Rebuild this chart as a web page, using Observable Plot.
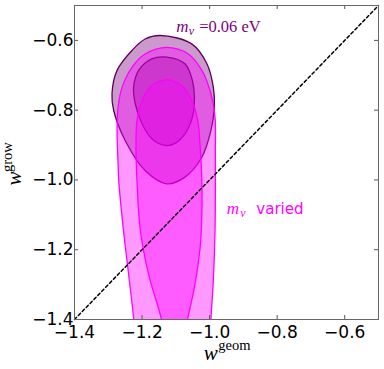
<!DOCTYPE html>
<html>
<head>
<meta charset="utf-8">
<script src="https://cdn.jsdelivr.net/npm/d3@7"></script>
<script src="https://cdn.jsdelivr.net/npm/@observablehq/plot@0.6"></script>
<style>
  html, body { margin: 0; padding: 0; background: white; }
</style>
</head>
<body>
<div id="chart"></div>
<script>
// ---- data ----
const xTicks = [-1.4, -1.2, -1.0, -0.8, -0.6];
const yTicks = [-1.4, -1.2, -1.0, -0.8, -0.6];
const xDomain = [-1.4, -0.5];
const yDomain = [-1.4, -0.5];

// m_nu = 0.06 eV contours (outer 95%, inner 68%)
const purpleOuter = [
  [-1.146, -0.586], [-1.053, -0.610], [-1.008, -0.667], [-0.989, -0.734],
  [-0.986, -0.792], [-0.996, -0.858], [-1.023, -0.935], [-1.073, -0.992],
  [-1.127, -1.011], [-1.191, -0.973], [-1.250, -0.887], [-1.284, -0.801],
  [-1.289, -0.753], [-1.274, -0.686], [-1.230, -0.629], [-1.191, -0.596]
];
const purpleInner = [
  [-1.127, -0.648], [-1.073, -0.667], [-1.051, -0.715], [-1.045, -0.763],
  [-1.051, -0.820], [-1.073, -0.868], [-1.102, -0.895], [-1.132, -0.901],
  [-1.171, -0.882], [-1.200, -0.839], [-1.220, -0.782], [-1.225, -0.734],
  [-1.210, -0.686], [-1.171, -0.653]
];
// m_nu varied contours
const magentaOuter = [
  [-1.127, -0.620], [-1.063, -0.639], [-1.023, -0.686], [-0.996, -0.753],
  [-0.984, -0.820], [-0.983, -0.916], [-0.984, -1.145], [-0.989, -1.288],
  [-0.996, -1.398], [-0.999, -1.460], [-1.110, -1.500], [-1.222, -1.460],
  [-1.225, -1.398], [-1.240, -1.269], [-1.255, -1.145], [-1.269, -1.002],
  [-1.271, -0.954], [-1.274, -0.858], [-1.271, -0.792], [-1.259, -0.734],
  [-1.230, -0.677], [-1.191, -0.639]
];
const magentaInner = [
  [-1.127, -0.713], [-1.082, -0.729], [-1.053, -0.772], [-1.035, -0.830],
  [-1.028, -0.906], [-1.023, -1.002], [-1.023, -1.097], [-1.028, -1.193],
  [-1.045, -1.308], [-1.065, -1.398], [-1.075, -1.460], [-1.103, -1.500],
  [-1.132, -1.460], [-1.143, -1.398], [-1.181, -1.269], [-1.205, -1.145],
  [-1.215, -1.002], [-1.218, -0.906], [-1.215, -0.830], [-1.200, -0.772],
  [-1.171, -0.729]
];
const diagonal = [[-1.4, -1.4], [-0.5, -0.5]];

// annotation anchors (data coords) and texts
const labelFixed = {x: -1.099, y: -0.577, m: "m", sub: "ν", rest: "=0.06 eV"};
const labelVaried = {x: -0.949, y: -1.097, m: "m", sub: "ν", rest: "varied"};

const fmt = d => d.toFixed(1).replace("-", "\u2212");
const PURPLE = "#800080", PURPLE_LINE = "#5e005e", MAGENTA = "#ff00ff";
const serif = "Liberation Serif";

const tickLenY = 4 / 348.9;
const tickLenX = 4 / 337.8;

const contour = (pts, color, line, clip) => [
  Plot.line(pts, {x: d => d[0], y: d => d[1], curve: "catmull-rom-closed",
    fill: color, fillOpacity: 0.4, stroke: "none", clip}),
  Plot.line(pts, {x: d => d[0], y: d => d[1], curve: "catmull-rom-closed",
    fill: "none", stroke: line, strokeWidth: 1.3, clip})
];

const chart = Plot.plot({
  width: 384,
  height: 369,
  marginLeft: 74,
  marginRight: 6,
  marginTop: 5,
  marginBottom: 50,
  style: {fontFamily: "DejaVu Sans", fontSize: "17px", background: "white", overflow: "visible"},
  x: {domain: xDomain, label: null},
  y: {domain: yDomain, label: null},
  marks: [
    ...contour(purpleOuter, PURPLE, PURPLE_LINE, false),
    ...contour(purpleInner, PURPLE, PURPLE_LINE, false),
    ...contour(magentaOuter, MAGENTA, MAGENTA, true),
    ...contour(magentaInner, MAGENTA, MAGENTA, true),
    Plot.line(diagonal, {x: d => d[0], y: d => d[1], stroke: "black", strokeWidth: 1.5, strokeDasharray: "3,2.6"}),
    // inward ticks
    Plot.ruleX(xTicks, {x: d => d, y1: yDomain[0], y2: yDomain[0] + tickLenY, stroke: "#555"}),
    Plot.ruleX(xTicks, {x: d => d, y1: yDomain[1], y2: yDomain[1] - tickLenY, stroke: "#555"}),
    Plot.ruleY(yTicks, {y: d => d, x1: xDomain[0], x2: xDomain[0] + tickLenX, stroke: "#555"}),
    Plot.ruleY(yTicks, {y: d => d, x1: xDomain[1], x2: xDomain[1] - tickLenX, stroke: "#555"}),
    Plot.axisX({ticks: xTicks, tickFormat: fmt, tickSize: 0, tickPadding: 6, fontSize: 17, fill: "black", label: null}),
    Plot.axisY({ticks: yTicks, tickFormat: fmt, tickSize: 0, tickPadding: 1, fontSize: 17, fill: "black", label: null}),
    Plot.frame({stroke: "#666"}),
    // annotations
    Plot.text([labelFixed], {x: "x", y: "y", text: "m", textAnchor: "start", lineAnchor: "bottom",
      fontFamily: serif, fontStyle: "italic", fontSize: 17, fill: PURPLE}),
    Plot.text([labelFixed], {x: "x", y: "y", text: "sub", textAnchor: "start", lineAnchor: "bottom",
      dx: 12.5, dy: 3, fontFamily: serif, fontStyle: "italic", fontSize: 12, fill: PURPLE}),
    Plot.text([labelFixed], {x: "x", y: "y", text: "rest", textAnchor: "start", lineAnchor: "bottom",
      dx: 23, fontFamily: serif, fontSize: 16.5, fill: PURPLE}),
    Plot.text([labelVaried], {x: "x", y: "y", text: "m", textAnchor: "start", lineAnchor: "bottom",
      fontFamily: serif, fontStyle: "italic", fontSize: 17, fill: MAGENTA}),
    Plot.text([labelVaried], {x: "x", y: "y", text: "sub", textAnchor: "start", lineAnchor: "bottom",
      dx: 13.5, dy: 3, fontFamily: serif, fontStyle: "italic", fontSize: 12, fill: MAGENTA}),
    Plot.text([labelVaried], {x: "x", y: "y", text: "rest", textAnchor: "start", lineAnchor: "bottom",
      dx: 29.5, fontFamily: "DejaVu Sans", fontSize: 15, fill: MAGENTA}),
    // axis labels
    Plot.text(["w"], {frameAnchor: "bottom", textAnchor: "end", lineAnchor: "bottom",
      dx: -8.7, dy: 40, fontFamily: serif, fontStyle: "italic", fontSize: 21, fill: "black"}),
    Plot.text(["geom"], {frameAnchor: "bottom", textAnchor: "start", lineAnchor: "bottom",
      dx: -8.2, dy: 30.5, fontFamily: serif, fontSize: 14.5, fill: "black"}),
    Plot.text(["w"], {frameAnchor: "left", textAnchor: "start", lineAnchor: "bottom", rotate: -90,
      dx: -54, dy: 23, fontFamily: serif, fontStyle: "italic", fontSize: 21, fill: "black"}),
    Plot.text(["grow"], {frameAnchor: "left", textAnchor: "start", lineAnchor: "bottom", rotate: -90,
      dx: -62.5, dy: 9.5, fontFamily: serif, fontSize: 14.5, fill: "black"})
  ]
});
document.getElementById("chart").appendChild(chart);
</script>
</body>
</html>
